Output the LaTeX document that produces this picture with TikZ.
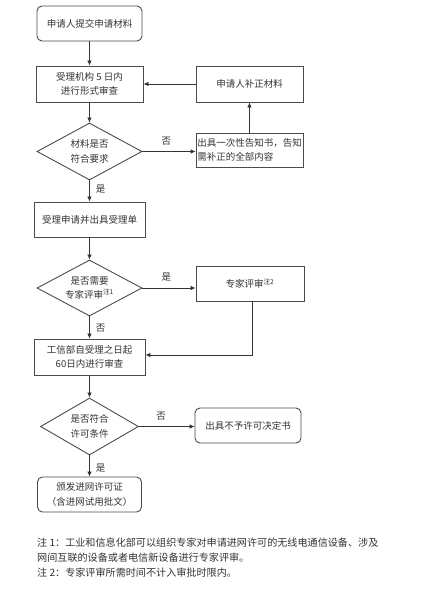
\documentclass[tikz,border=0pt]{standalone}
\usepackage{fontspec}
\newfontfamily\cjk{Noto Sans CJK SC}
\usetikzlibrary{shapes.geometric,arrows.meta}
\begin{document}
\begin{tikzpicture}[x=1pt,y=-1pt,
  every node/.style={text=black!80},
  box/.style={draw=black!70, line width=0.9pt, minimum width=107pt, minimum height=36pt,
    inner sep=0pt, align=center, font=\cjk\fontsize{9.5}{14.5}\selectfont},
  rbox/.style={box, rounded corners=5pt},
  dia/.style={diamond, draw=black!70, line width=0.9pt, aspect=1.85, inner sep=0pt,
    minimum width=105pt, minimum height=57pt, align=center, font=\cjk\fontsize{9.5}{14.5}\selectfont},
  conn/.style={draw=black!80, line width=0.8pt, -{Latex[length=5pt,width=4.5pt]}},
  lbl/.style={font=\cjk\fontsize{9.5}{11}\selectfont, inner sep=0pt},
  note/.style={anchor=west, inner sep=0pt, font=\cjk\fontsize{10.1}{12}\selectfont}
]
\useasboundingbox (0,0) rectangle (422,602);
\fill[white] (0,0) rectangle (422,602);

\node[rbox, minimum width=105pt, minimum height=35pt] (n1) at (89.5,23.5) {申请人提交申请材料};
\node[box] (n2) at (89.5,84) {受理机构 5 日内\\进行形式审查};
\node[box] (n3) at (249.5,84) {申请人补正材料};
\node[dia] (d1) at (89.5,151.5) {材料是否\\符合要求};
\node[box, minimum height=34pt, align=left] (n4) at (249.5,150) {出具一次性告知书，告知\\需补正的全部内容\hspace{27pt}};
\node[box, minimum width=111pt, minimum height=35pt] (n5) at (89.5,219.5) {受理申请并出具受理单};
\node[dia, minimum height=56pt] (d2) at (89.5,288) {是否需要\\专家评审\textsuperscript{注1}};
\node[box, minimum width=108pt, minimum height=35pt] (n6) at (250,283.5) {专家评审\textsuperscript{注2}};
\node[box, minimum width=111pt] (n7) at (89.5,357) {工信部自受理之日起\\60日内进行审查};
\node[dia, minimum width=98pt] (d3) at (89.5,426.5) {是否符合\\许可条件};
\node[rbox, minimum width=106pt, minimum height=35pt] (n8) at (248,425.5) {出具不予许可决定书};
\node[rbox, minimum width=104pt, minimum height=35pt] (n9) at (89.5,494.5) {颁发进网许可证\\（含进网试用批文）};

\draw[conn] (n1.south) -- (n2.north);
\draw[conn] (n3.west) -- (n2.east);
\draw[conn] (n2.south) -- (d1.north);
\draw[conn] (d1.east) -- (d1.east -| n4.west) node[lbl, pos=0.45, above=6pt] (l1) {否};
\draw[conn] (n4.north) -- (n3.south);
\draw[conn] (d1.south) -- (n5.north) node[lbl, pos=0.4, right=6pt] (l2) {是};
\draw[conn] (n5.south) -- (d2.north);
\draw[conn] (d2.east) -- (d2.east -| n6.west) node[lbl, pos=0.45, above=6pt] (l3) {是};
\draw[conn] ([xshift=2pt]n6.south) |- ([yshift=2pt]n7.east);
\draw[conn] (d2.south) -- (n7.north) node[lbl, pos=0.55, right=6pt] (l4) {否};
\draw[conn] (n7.south) -- (d3.north);
\draw[conn] (d3.east) -- (d3.east -| n8.west) node[lbl, pos=0.4, above=6pt] (l5) {否};
\draw[conn] (d3.south) -- (n9.north) node[lbl, pos=0.6, right=6pt] (l6) {是};

\node[note] (t1) at (37,543) {注 1：工业和信息化部可以组织专家对申请进网许可的无线电通信设备、涉及};
\node[note] (t2) at (37,558) {网间互联的设备或者电信新设备进行专家评审。};
\node[note] (t3) at (37,573) {注 2：专家评审所需时间不计入审批时限内。};
\end{tikzpicture}
\end{document}
